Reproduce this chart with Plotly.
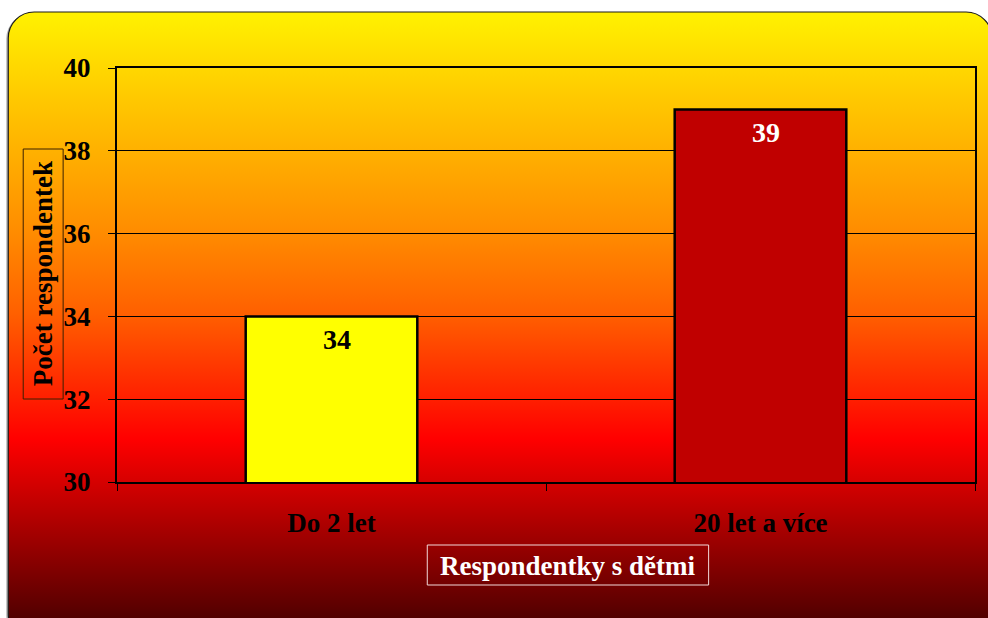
import base64
import plotly.graph_objects as go

# Data
categories = ["Do 2 let", "20 let a více"]
values = [34, 39]
bar_colors = ["#FFFF00", "#C00000"]
label_colors = ["#000000", "#FFFFFF"]
y_ticks = [30, 32, 34, 36, 38, 40]

W, H = 988, 618
M_L, M_R, M_T, M_B = 117, 11, 68, 136
PW, PH = W - M_L - M_R, H - M_T - M_B


def px_to_paper(x=None, y=None):
    out = []
    if x is not None:
        out.append((x - M_L) / PW)
    if y is not None:
        out.append((H - M_B - y) / PH)
    return out[0] if len(out) == 1 else tuple(out)


# Rounded gradient panel behind the chart (yellow -> red -> dark red)
svg = f"""<svg xmlns='http://www.w3.org/2000/svg' width='1000' height='650' viewBox='0 0 1000 650'>
<defs>
<linearGradient id='g' gradientUnits='userSpaceOnUse' x1='0' y1='12' x2='0' y2='640'>
<stop offset='0' stop-color='#FFF200'/>
<stop offset='0.14' stop-color='#FFC800'/>
<stop offset='0.35' stop-color='#FF8C00'/>
<stop offset='0.48' stop-color='#FF6000'/>
<stop offset='0.68' stop-color='#FF0000'/>
<stop offset='0.965' stop-color='#520000'/>
<stop offset='1' stop-color='#4A0000'/>
</linearGradient>
</defs>
<rect x='6' y='13' width='986' height='628' rx='26' ry='26' fill='#808080' opacity='0.6'/>
<rect x='8' y='12' width='986' height='628' rx='26' ry='26' fill='url(#g)' stroke='#1a1a1a' stroke-width='1.2'/>
</svg>"""
svg_uri = "data:image/svg+xml;base64," + base64.b64encode(svg.encode()).decode()

font_family = "Liberation Serif, Times New Roman, serif"

fig = go.Figure()
fig.add_trace(go.Bar(
    x=categories,
    y=values,
    base=0,
    width=0.4,
    marker=dict(color=bar_colors, line=dict(color="#000000", width=2.5)),
    showlegend=False,
    hoverinfo="x+y",
))

annotations = []
# Value labels just inside the top of each bar
for cat, val, col in zip(categories, values, label_colors):
    annotations.append(dict(
        x=cat, y=val, xref="x", yref="y", text=f"<b>{val}</b>",
        showarrow=False, yanchor="top", yshift=-6, xshift=5,
        font=dict(family=font_family, size=28, color=col),
    ))

# Axis titles, each in its own framed box
yt_x, yt_y = px_to_paper(x=43, y=274)
annotations.append(dict(
    x=yt_x, y=yt_y, xref="paper", yref="paper", text="<b>Počet respondentek</b>",
    textangle=-90, showarrow=False, xanchor="center", yanchor="middle",
    font=dict(family=font_family, size=27, color="#000000"),
))
xt_x, xt_y = px_to_paper(x=569, y=566)
annotations.append(dict(
    x=xt_x, y=xt_y, xref="paper", yref="paper", text="<b>Respondentky s dětmi</b>",
    showarrow=False, xanchor="center", yanchor="middle",
    font=dict(family=font_family, size=27, color="#FFFFFF"),
))

shapes = []
x0, y1 = px_to_paper(x=23, y=149)
x1, y0 = px_to_paper(x=63, y=399)
shapes.append(dict(type="rect", xref="paper", yref="paper", x0=x0, x1=x1, y0=y0, y1=y1,
                   line=dict(color="#3a2000", width=1), fillcolor="rgba(0,0,0,0)"))
x0, y1 = px_to_paper(x=428, y=545)
x1, y0 = px_to_paper(x=710, y=585)
shapes.append(dict(type="rect", xref="paper", yref="paper", x0=x0, x1=x1, y0=y0, y1=y1,
                   line=dict(color="#F2D8D8", width=1), fillcolor="rgba(0,0,0,0)"))

fig.update_layout(
    width=W, height=H,
    margin=dict(l=M_L, r=M_R, t=M_T, b=M_B, pad=0),
    paper_bgcolor="#FFFFFF",
    plot_bgcolor="rgba(0,0,0,0)",
    font=dict(family=font_family, size=27, color="#000000"),
    bargap=0.6,
    annotations=annotations,
    shapes=shapes,
    images=[dict(
        source=svg_uri, xref="paper", yref="paper",
        x=px_to_paper(x=0), y=px_to_paper(y=0),
        sizex=1000 / PW, sizey=650 / PH,
        xanchor="left", yanchor="top", sizing="stretch", layer="below",
    )],
)

fig.update_xaxes(
    type="category",
    showline=True, mirror=True, linecolor="#000000", linewidth=2,
    ticks="outside", tickson="boundaries", ticklen=7, tickcolor="#000000", tickwidth=1,
    tickfont=dict(family=font_family, size=27, color="#000000", weight="bold"),
    ticklabelstandoff=16,
    showgrid=False, zeroline=False,
)
fig.update_yaxes(
    range=[30, 40], tickvals=y_ticks, ticktext=[f"{v}" for v in y_ticks],
    showline=True, mirror=True, linecolor="#000000", linewidth=2,
    ticks="outside", ticklen=7, tickcolor="#000000", tickwidth=1,
    tickfont=dict(family=font_family, size=27, color="#000000", weight="bold"),
    ticklabelstandoff=12,
    showgrid=True, gridcolor="#000000", gridwidth=1, zeroline=False,
)

fig.write_html("out.html")
